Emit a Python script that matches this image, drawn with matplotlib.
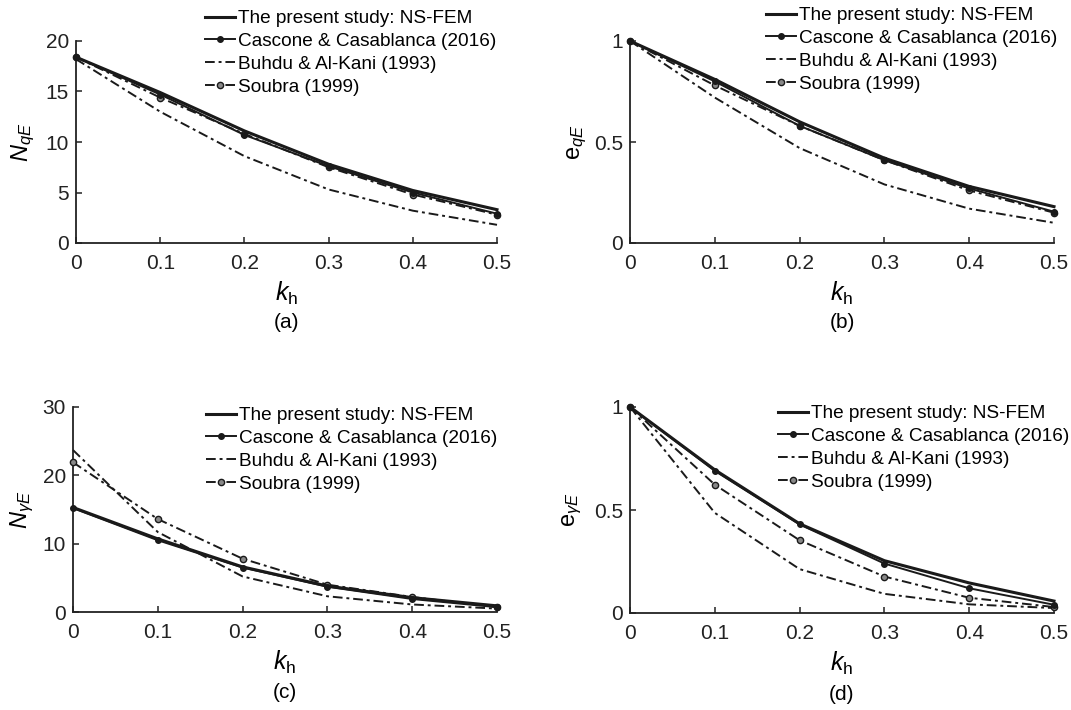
import matplotlib
matplotlib.use("Agg")
import matplotlib.pyplot as plt
from matplotlib.ticker import FixedLocator, FixedFormatter

plt.rcParams['font.family'] = ['Liberation Sans', 'DejaVu Sans']
plt.rcParams['mathtext.fontset'] = 'custom'
plt.rcParams['mathtext.rm'] = 'Liberation Sans'
plt.rcParams['mathtext.it'] = 'Liberation Sans:italic'
plt.rcParams['mathtext.bf'] = 'Liberation Sans:bold'

kh = [0.0, 0.1, 0.2, 0.3, 0.4, 0.5]
series_names = ["The present study: NS-FEM", "Cascone & Casablanca (2016)",
                "Buhdu & Al-Kani (1993)", "Soubra (1999)"]

# (a) N_qE
a_nsfem = [18.4, 14.9, 11.1, 7.8, 5.2, 3.3]
a_cascone = [18.4, 14.7, 10.7, 7.6, 5.0, 2.9]
a_buhdu = [18.2, 13.0, 8.6, 5.3, 3.2, 1.8]
a_soubra = [18.4, 14.4, 10.8, 7.5, 4.8, 2.8]

# (b) e_qE
b_nsfem = [1.0, 0.81, 0.60, 0.42, 0.28, 0.18]
b_cascone = [1.0, 0.80, 0.58, 0.41, 0.27, 0.155]
b_buhdu = [1.0, 0.72, 0.47, 0.29, 0.17, 0.10]
b_soubra = [1.0, 0.78, 0.58, 0.41, 0.26, 0.15]

# (c) N_gammaE
c_nsfem = [15.3, 10.7, 6.6, 3.8, 2.1, 0.9]
c_cascone = [15.2, 10.5, 6.5, 3.7, 1.9, 0.7]
c_buhdu = [23.7, 11.7, 5.2, 2.3, 1.1, 0.5]
c_soubra = [21.9, 13.6, 7.8, 4.0, 2.2, 0.7]

# (d) e_gammaE
d_nsfem = [1.0, 0.695, 0.433, 0.254, 0.146, 0.058]
d_cascone = [1.0, 0.69, 0.43, 0.24, 0.12, 0.04]
d_buhdu = [1.0, 0.486, 0.213, 0.093, 0.042, 0.024]
d_soubra = [1.0, 0.623, 0.353, 0.177, 0.074, 0.029]

x_ticks = [0, 0.1, 0.2, 0.3, 0.4, 0.5]
x_ticklabels = ["0", "0.1", "0.2", "0.3", "0.4", "0.5"]

W, H = 1071, 710
panels = [
    dict(rect=[76/W, 1-243/H, 421/W, 202/H], data=[a_nsfem, a_cascone, a_buhdu, a_soubra],
         ylim=(0, 20), yticks=[0, 5, 10, 15, 20], yticklabels=["0", "5", "10", "15", "20"],
         ylabel=r'$N_{qE}$', ylx=-0.124, caption="(a)", leg=(205/W, 1-10/H)),
    dict(rect=[630/W, 1-243/H, 424/W, 202/H], data=[b_nsfem, b_cascone, b_buhdu, b_soubra],
         ylim=(0, 1), yticks=[0, 0.5, 1], yticklabels=["0", "0.5", "1"],
         ylabel=r'$\mathrm{e}_{qE}$', ylx=-0.125, caption="(b)", leg=(766/W, 1-7/H)),
    dict(rect=[73/W, 1-612/H, 424/W, 205/H], data=[c_nsfem, c_cascone, c_buhdu, c_soubra],
         ylim=(0, 30), yticks=[0, 10, 20, 30], yticklabels=["0", "10", "20", "30"],
         ylabel=r'$N_{\gamma E}$', ylx=-0.12, caption="(c)", leg=(206/W, 1-407/H)),
    dict(rect=[630/W, 1-613/H, 424/W, 206/H], data=[d_nsfem, d_cascone, d_buhdu, d_soubra],
         ylim=(0, 1), yticks=[0, 0.5, 1], yticklabels=["0", "0.5", "1"],
         ylabel=r'$\mathrm{e}_{\gamma E}$', ylx=-0.137, caption="(d)", leg=(778/W, 1-405/H)),
]

fig = plt.figure(figsize=(W/100, H/100), dpi=100)
col = '#1a1a1a'
for p in panels:
    ax = fig.add_axes(p['rect'])
    ns, ca, bu, so = p['data']
    ax.plot(kh, ns, '-', color=col, lw=2.2, label=series_names[0], clip_on=False, zorder=4)
    ax.plot(kh, ca, '-', color=col, lw=1.4, marker='o', ms=4, mfc=col, mec=col,
            label=series_names[1], clip_on=False, zorder=4)
    ax.plot(kh, bu, color=col, lw=1.4, dashes=[5, 2, 1.5, 2], label=series_names[2],
            clip_on=False, zorder=3)
    ax.plot(kh, so, color=col, lw=1.4, dashes=[5, 2, 1.5, 2], marker='o', ms=4.5,
            mfc='#888888', mec=col, label=series_names[3], clip_on=False, zorder=3)
    ax.set_xlim(0, 0.5)
    ax.set_ylim(*p['ylim'])
    ax.xaxis.set_major_locator(FixedLocator(x_ticks))
    ax.xaxis.set_major_formatter(FixedFormatter(x_ticklabels))
    ax.yaxis.set_major_locator(FixedLocator(p['yticks']))
    ax.yaxis.set_major_formatter(FixedFormatter(p['yticklabels']))
    for s in ['top', 'right']:
        ax.spines[s].set_visible(False)
    for s in ['left', 'bottom']:
        ax.spines[s].set_linewidth(1.3)
        ax.spines[s].set_color('#222222')
    ax.tick_params(direction='in', length=4, width=1.1, labelsize=15, colors='#222222')
    ax.tick_params(axis='x', pad=8)
    ax.tick_params(axis='y', pad=5)
    ax.set_xlabel(r'$k_\mathrm{h}$', fontsize=18, labelpad=5)
    ax.set_ylabel(p['ylabel'], fontsize=17, va='center')
    ax.yaxis.set_label_coords(p['ylx'], 0.5)
    ax.text(0.5, -0.395, p['caption'], transform=ax.transAxes, ha='center', va='center',
            fontsize=15)
    ax.legend(loc='upper left', bbox_to_anchor=p['leg'], bbox_transform=fig.transFigure,
              frameon=False, fontsize=13.7, borderpad=0, borderaxespad=0,
              handlelength=1.6, handletextpad=0.12, labelspacing=0.29)

fig.savefig("out.png", dpi=100)
